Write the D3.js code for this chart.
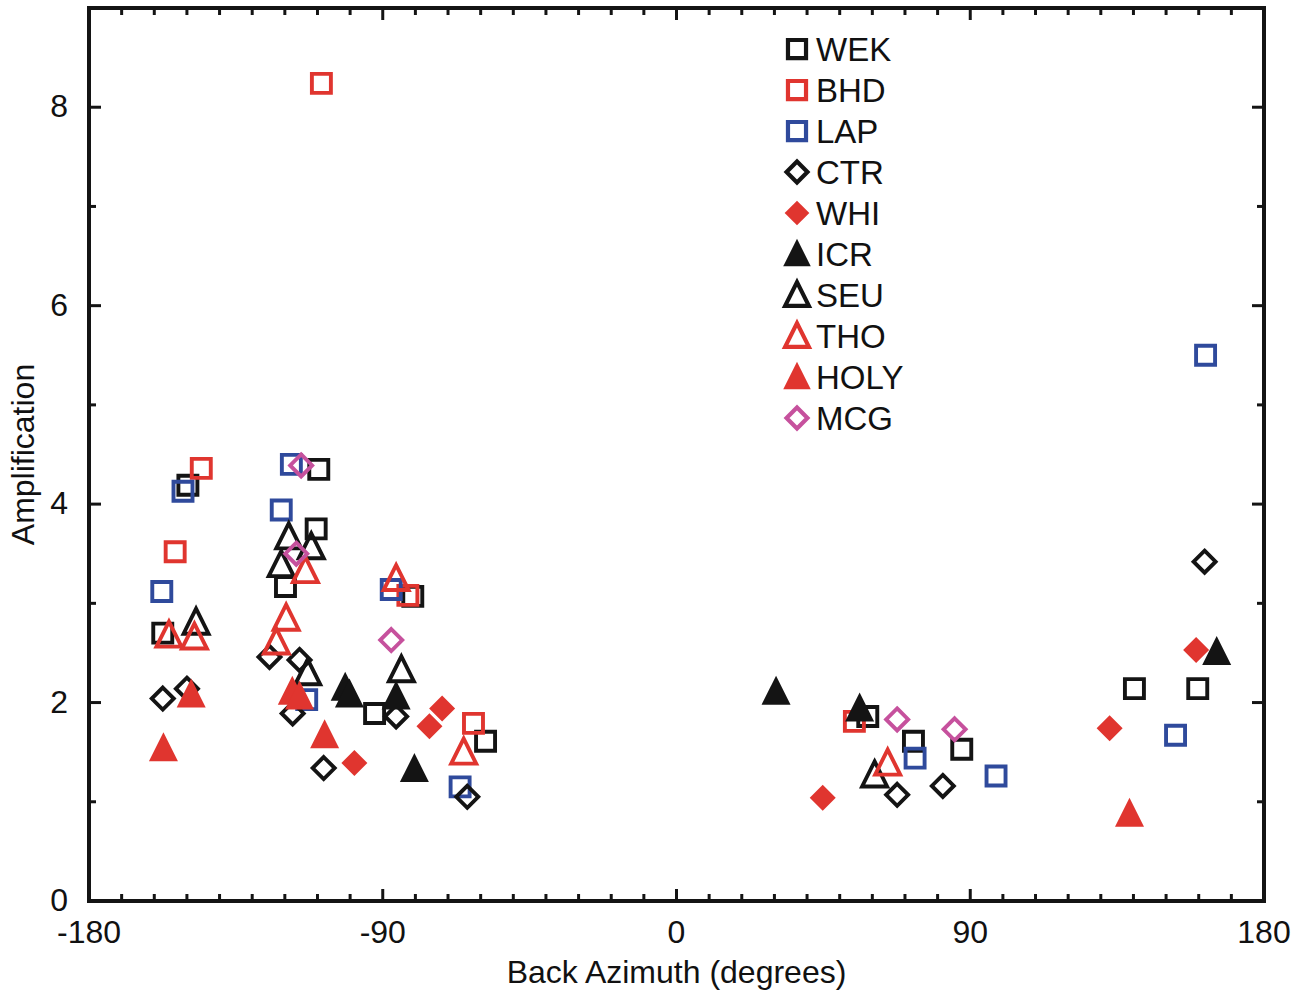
<!DOCTYPE html>
<html lang="en">
<head>
<meta charset="UTF-8">
<title>Amplification vs Back Azimuth</title>
<style>
  body { margin: 0; background: #fff; }
  svg { display: block; font-family: "Liberation Sans", Arial, sans-serif; }
  .tick-label { font-size: 32px; fill: #111; }
  .axis-title { font-size: 32px; fill: #111; }
  .legend-text { font-size: 33px; fill: #111; }
</style>
</head>
<body>
<svg width="1302" height="995"></svg>
<script src="https://d3js.org/d3.v7.min.js"></script>
<script>

// station data: [back azimuth (deg), amplification]
const WEK = [[-149.7, 4.19], [-157.4, 2.70], [-109.6, 4.35], [-110.4, 3.75], [-119.8, 3.17],
  [-92.5, 1.89], [-80.8, 3.07], [-58.5, 1.61], [58.6, 1.86], [72.6, 1.61], [87.4, 1.53],
  [140.3, 2.14], [159.7, 2.14]];
const BHD = [[-145.6, 4.36], [-153.6, 3.52], [-108.8, 8.24], [-82.3, 3.08], [-62.2, 1.79], [54.5, 1.81]];
const LAP = [[-151.2, 4.13], [-157.7, 3.12], [-118.0, 4.40], [-121.1, 3.94], [-113.3, 2.03],
  [-87.4, 3.14], [-66.3, 1.15], [73.1, 1.44], [97.9, 1.26], [152.9, 1.67], [162.1, 5.50]];
const CTR = [[-157.4, 2.04], [-150.0, 2.14], [-124.7, 2.46], [-115.5, 2.43], [-117.6, 1.89],
  [-108.1, 1.34], [-85.9, 1.86], [-64.1, 1.05], [67.6, 1.07], [81.6, 1.16], [161.8, 3.42]];
const WHI = [[-98.7, 1.39], [-71.8, 1.94], [-75.7, 1.76], [44.8, 1.04], [132.7, 1.74], [159.2, 2.53]];
const ICR = [[-101.5, 2.15], [-100.2, 2.08], [-85.9, 2.06], [-80.3, 1.33], [30.5, 2.11], [56.1, 1.94], [165.5, 2.51]];
const SEU = [[-147.2, 2.81], [-118.8, 3.67], [-111.9, 3.57], [-121.1, 3.39], [-113.0, 2.30],
  [-84.3, 2.33], [60.7, 1.27]];
const THO = [[-155.5, 2.68], [-147.7, 2.66], [-113.7, 3.33], [-119.6, 2.85], [-122.6, 2.61],
  [-85.9, 3.25], [-65.2, 1.50], [64.7, 1.39]];
const HOLY = [[-148.7, 2.08], [-157.2, 1.54], [-117.7, 2.11], [-115.5, 2.06], [-107.8, 1.67], [138.8, 0.88]];
const MCG = [[-115.0, 4.39], [-116.5, 3.50], [-87.4, 2.63], [67.6, 1.83], [85.2, 1.73]];

const xTicks = [-180, -90, 0, 90, 180];
const yTicks = [0, 2, 4, 6, 8];

const BLACK = "#141414", RED = "#e0352f", BLUE = "#2f4a9c", PINK = "#c6519d";

const series = [
  {name: "WEK", data: WEK, shape: "square", color: BLACK, filled: false},
  {name: "BHD", data: BHD, shape: "square", color: RED, filled: false},
  {name: "LAP", data: LAP, shape: "square", color: BLUE, filled: false},
  {name: "CTR", data: CTR, shape: "diamond", color: BLACK, filled: false},
  {name: "WHI", data: WHI, shape: "diamond", color: RED, filled: true},
  {name: "ICR", data: ICR, shape: "triangle", color: BLACK, filled: true},
  {name: "SEU", data: SEU, shape: "triangle", color: BLACK, filled: false},
  {name: "THO", data: THO, shape: "triangle", color: RED, filled: false},
  {name: "HOLY", data: HOLY, shape: "triangle", color: RED, filled: true},
  {name: "MCG", data: MCG, shape: "diamond", color: PINK, filled: false}
];

const margin = {left: 89, right: 38, top: 8, bottom: 94};
const W = 1302, H = 995;

const svg = d3.select("svg");

const x = d3.scaleLinear().domain([-180, 180]).range([margin.left, W - margin.right]);
const y = d3.scaleLinear().domain([0, 9]).range([H - margin.bottom, margin.top]);

// marker path, centred at 0,0; s = scale
function shapePath(shape, filled, s) {
  if (shape === "square") {
    const h = 9.5 * s;
    return `M${-h},${-h}H${h}V${h}H${-h}Z`;
  }
  if (shape === "diamond") {
    const h = filled ? 13 * s : 11 * s;
    return `M0,${-h}L${h},0L0,${h}L${-h},0Z`;
  }
  // triangle
  const w = filled ? 14.5 * s : 12.5 * s;
  const top = filled ? -16 * s : -13.5 * s;
  const bot = filled ? 13 * s : 11.5 * s;
  return `M0,${top}L${w},${bot}L${-w},${bot}Z`;
}

function styleMarker(sel, d, sw) {
  sel.attr("fill", d.filled ? d.color : "none")
    .attr("stroke", d.filled ? "none" : d.color)
    .attr("stroke-width", sw)
    .attr("stroke-linejoin", "miter");
}

// points
const pts = svg.append("g");
series.forEach(s => {
  pts.selectAll(null)
    .data(s.data)
    .join("path")
    .attr("d", shapePath(s.shape, s.filled, 1))
    .attr("transform", d => `translate(${x(d[0])},${y(d[1])})`)
    .call(sel => styleMarker(sel, s, 3.9));
});

// frame and ticks
const axisColor = "#141414";
const x0 = x(-180), x1 = x(180), y0 = y(0), y1 = y(9);

const ticks = svg.append("g").attr("stroke", axisColor).attr("stroke-width", 3);
const xMinor = d3.range(-170, 180, 10);
xMinor.forEach(v => {
  const len = v % 90 === 0 ? 12 : 7;
  ticks.append("line").attr("x1", x(v)).attr("x2", x(v)).attr("y1", y0).attr("y2", y0 - len);
  ticks.append("line").attr("x1", x(v)).attr("x2", x(v)).attr("y1", y1).attr("y2", y1 + len);
});
d3.range(1, 9).forEach(v => {
  const len = v % 2 === 0 ? 12 : 7;
  ticks.append("line").attr("x1", x0).attr("x2", x0 + len).attr("y1", y(v)).attr("y2", y(v));
  ticks.append("line").attr("x1", x1).attr("x2", x1 - len).attr("y1", y(v)).attr("y2", y(v));
});

svg.append("rect")
  .attr("x", x0).attr("y", y1)
  .attr("width", x1 - x0).attr("height", y0 - y1)
  .attr("fill", "none").attr("stroke", axisColor).attr("stroke-width", 4);

// tick labels
svg.append("g").selectAll("text")
  .data(xTicks)
  .join("text")
  .attr("class", "tick-label")
  .attr("x", d => x(d))
  .attr("y", y0 + 42)
  .attr("text-anchor", "middle")
  .text(d => d);

svg.append("g").selectAll("text")
  .data(yTicks)
  .join("text")
  .attr("class", "tick-label")
  .attr("x", x0 - 21)
  .attr("y", d => y(d) + 10)
  .attr("text-anchor", "end")
  .text(d => d);

svg.append("text")
  .attr("class", "axis-title")
  .attr("x", x(0))
  .attr("y", 983)
  .attr("text-anchor", "middle")
  .text("Back Azimuth (degrees)");

svg.append("text")
  .attr("class", "axis-title")
  .attr("transform", `translate(34,${(y0 + y1) / 2}) rotate(-90)`)
  .attr("text-anchor", "middle")
  .text("Amplification");

// legend
const legend = svg.append("g").attr("transform", "translate(797,49)");
const rows = legend.selectAll("g")
  .data(series)
  .join("g")
  .attr("transform", (d, i) => `translate(0,${i * 41})`);
rows.append("path")
  .attr("d", d => shapePath(d.shape, d.filled, 0.95))
  .each(function(d) { styleMarker(d3.select(this), d, 4.2); });
rows.append("text")
  .attr("class", "legend-text")
  .attr("x", 19)
  .attr("y", 12)
  .text(d => d.name);

</script>
</body>
</html>
